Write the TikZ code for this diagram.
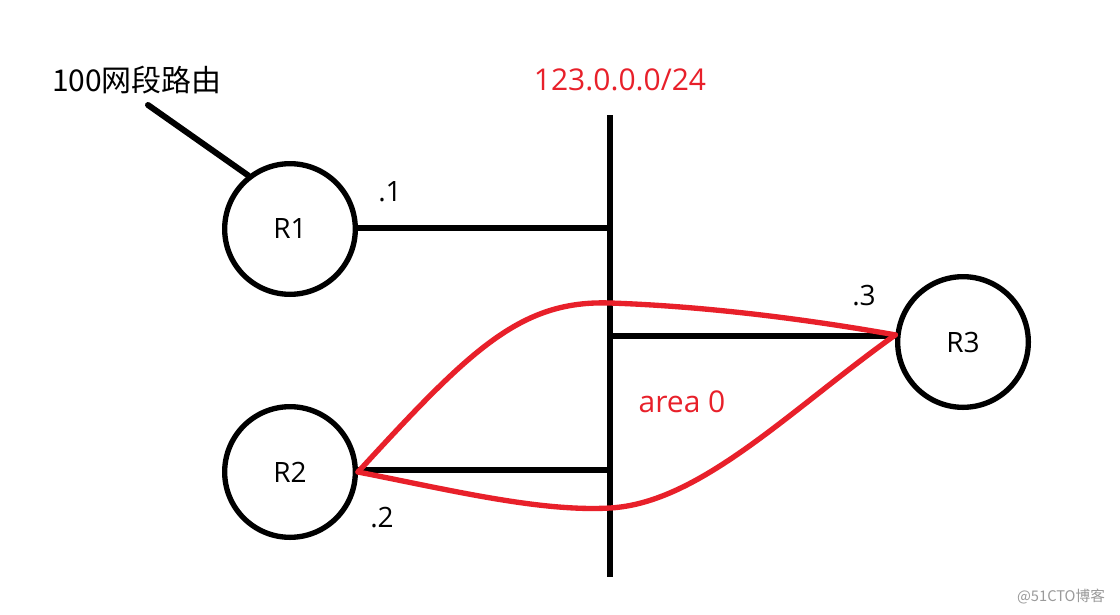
\documentclass[tikz,border=0pt]{standalone}
\usepackage{fontspec}
\setmainfont{Open Sans}
\newfontfamily\cjk{Noto Sans CJK SC}
\usetikzlibrary{calc}
\definecolor{ospfRed}{HTML}{E8202A}
\definecolor{ospfInk}{HTML}{000000}
\definecolor{ospfMark}{HTML}{9A9A9A}
\tikzset{
  % router circle
  rtr/.style={circle,draw=ospfInk,line width=4pt,minimum size=98pt,
    inner sep=0pt,font=\fontsize{21}{25}\selectfont},
  % black links and bus
  lnk/.style={draw=ospfInk,line width=4.5pt},
  % red adjacency curves
  adj/.style={draw=ospfRed,line width=4pt,line cap=round},
  % labels
  lbl/.style={font=\fontsize{21}{25}\selectfont,text=ospfInk,inner sep=0pt},
  rlbl/.style={font=\fontsize{22.5}{26}\selectfont,text=ospfRed,inner sep=0pt},
}
\begin{document}
\begin{tikzpicture}[x=0.75pt,y=-0.75pt]
  \useasboundingbox[fill=white] (0,0) rectangle (1120,614);

  \node[rtr] (R1) at (290,229) {R1};
  \node[rtr] (R2) at (290,472) {R2};
  \node[rtr] (R3) at (963,342) {R3};

  % bus 123.0.0.0/24
  \coordinate (bustop) at (610,115);
  \coordinate (busbot) at (610,577);
  \coordinate (b1) at (610,228);
  \coordinate (b3) at (610,336);
  \coordinate (b2) at (610,470);
  \draw[lnk] (bustop) -- (busbot);
  \node[rlbl] (net) at (620,80) {123.0.0.0/24};

  \draw[lnk] (R1.east |- b1) -- (b1);
  \draw[lnk] (b3) -- (R3.west |- b3);
  \draw[lnk] (R2.east |- b2) -- (b2);

  % route 100
  \node[lbl,font=\cjk\fontsize{22.5}{26}\selectfont] (rt) at (137,80) {100网段路由};
  \coordinate (tail) at (148,105);
  \draw[lnk,line cap=round] (tail) -- (R1.128);

  \node[lbl] (ip1) at (390,192) {.1};
  \node[lbl] (ip2) at (382,518) {.2};
  \node[lbl] (ip3) at (864,296) {.3};

  % area 0
  \draw[adj] (R2.east) .. controls (470,350) and (520,300) .. (610,303)
    .. controls (700,306) and (800,318) .. (R3.174);
  \draw[adj] (R2.east) .. controls (450,490) and (540,512) .. (610,508)
    .. controls (700,503) and (790,410) .. (R3.174);
  \node[rlbl] (area) at (682,402) {area 0};

  \node[font=\cjk\fontsize{11}{13}\selectfont,text=ospfMark] (wm) at (1061,597) {@51CTO博客};
\end{tikzpicture}
\end{document}
